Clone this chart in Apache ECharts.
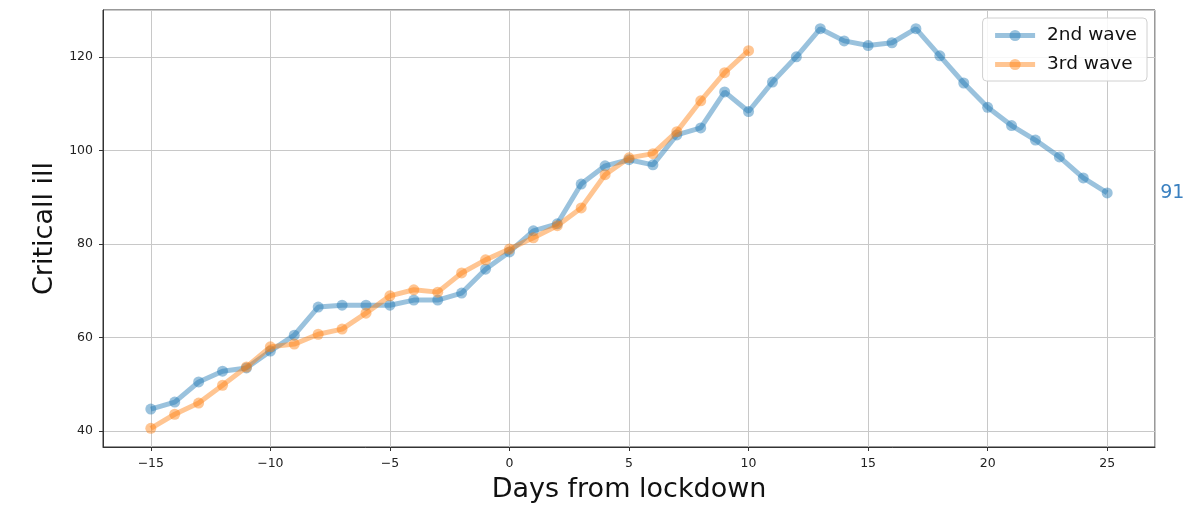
<!DOCTYPE html>
<html>
<head>
<meta charset="utf-8">
<script src="https://cdn.jsdelivr.net/npm/echarts@6/dist/echarts.min.js"></script>
<style>html,body{margin:0;padding:0;background:#fff}#c{width:1200px;height:523px}</style>
</head>
<body>
<div id="c"></div>
<script>
const days2 = [-15,-14,-13,-12,-11,-10,-9,-8,-7,-6,-5,-4,-3,-2,-1,0,1,2,3,4,5,6,7,8,9,10,11,12,13,14,15,16,17,18,19,20,21,22,23,24,25];
const wave2 = [44.7,46.2,50.5,52.8,53.5,57.1,60.5,66.5,66.9,66.9,66.9,68.0,68.0,69.5,74.6,78.3,82.8,84.3,92.8,96.7,98.0,96.9,103.3,104.8,112.5,108.3,114.6,120.0,126.0,123.4,122.4,123.0,126.0,120.2,114.4,109.2,105.3,102.2,98.6,94.1,90.9];
const days3 = [-15,-14,-13,-12,-11,-10,-9,-8,-7,-6,-5,-4,-3,-2,-1,0,1,2,3,4,5,6,7,8,9,10];
const wave3 = [40.6,43.6,46.0,49.8,53.7,58.0,58.6,60.7,61.8,65.2,68.9,70.2,69.7,73.8,76.6,78.9,81.3,83.9,87.7,94.8,98.4,99.3,104.0,110.6,116.6,121.3];
const seriesNames = ['2nd wave', '3rd wave'];

const FONT = 'DejaVu Sans';
const chart = echarts.init(document.getElementById('c'), null, {renderer: 'canvas'});
const pairs = (xs, ys) => xs.map((x, i) => [x, ys[i]]);
chart.setOption({
  animation: false,
  textStyle: {fontFamily: FONT},
  grid: {left: 103, right: 45, top: 10, bottom: 76, show: true, borderColor: '#333', borderWidth: 1, backgroundColor: 'transparent'},
  legend: {
    orient: 'vertical', right: 53, top: 18,
    padding: [8, 10, 7, 10], itemGap: 10, itemWidth: 40, itemHeight: 14,
    backgroundColor: 'rgba(255,255,255,0.85)', borderColor: '#d0d0d0', borderWidth: 1, borderRadius: 4,
    textStyle: {fontSize: 18.5, color: '#111', fontFamily: FONT, padding: [0, 0, 0, 7]},
    lineStyle: {width: 5, opacity: 0.45},
    itemStyle: {opacity: 0.45},
    data: seriesNames
  },
  xAxis: {
    type: 'value', min: -17, max: 27, splitNumber: 8,
    name: 'Days from lockdown', nameLocation: 'middle', nameGap: 29,
    nameTextStyle: {fontSize: 27, color: '#111', fontFamily: FONT},
    axisLine: {show: true, onZero: false, lineStyle: {color: '#333', width: 1}},
    axisTick: {show: true, length: 4, lineStyle: {color: '#333'}},
    axisLabel: {fontSize: 12.5, color: '#222', margin: 10, showMinLabel: false, showMaxLabel: false,
      formatter: v => (v < 0 ? '\u2212' + Math.abs(v) : String(v))},
    splitLine: {show: true, lineStyle: {color: '#c8c8c8', width: 1}}
  },
  yAxis: {
    type: 'value', min: 36.6, max: 130, splitNumber: 5,
    name: 'Criticall ill', nameLocation: 'middle', nameGap: 44,
    nameTextStyle: {fontSize: 27, color: '#111', fontFamily: FONT},
    axisLine: {show: true, onZero: false, lineStyle: {color: '#333', width: 1}},
    axisTick: {show: true, length: 4, lineStyle: {color: '#333'}},
    axisLabel: {fontSize: 12.5, color: '#222', margin: 10, showMinLabel: false, showMaxLabel: false},
    splitLine: {show: true, lineStyle: {color: '#c8c8c8', width: 1}}
  },
  series: [
    {
      name: seriesNames[0], type: 'line', data: pairs(days2, wave2),
      symbol: 'circle', symbolSize: 11, showAllSymbol: true,
      lineStyle: {color: '#1f77b4', width: 5, opacity: 0.45},
      itemStyle: {color: '#1f77b4', opacity: 0.45},
      endLabel: {show: true, distance: 53, fontSize: 19, color: '#3a80c0', fontFamily: FONT,
        formatter: p => String(Math.round(p.value[1]))},
      z: 2
    },
    {
      name: seriesNames[1], type: 'line', data: pairs(days3, wave3),
      symbol: 'circle', symbolSize: 11, showAllSymbol: true,
      lineStyle: {color: '#ff7f0e', width: 5, opacity: 0.45},
      itemStyle: {color: '#ff7f0e', opacity: 0.45},
      z: 3
    }
  ]
});
</script>
</body>
</html>
